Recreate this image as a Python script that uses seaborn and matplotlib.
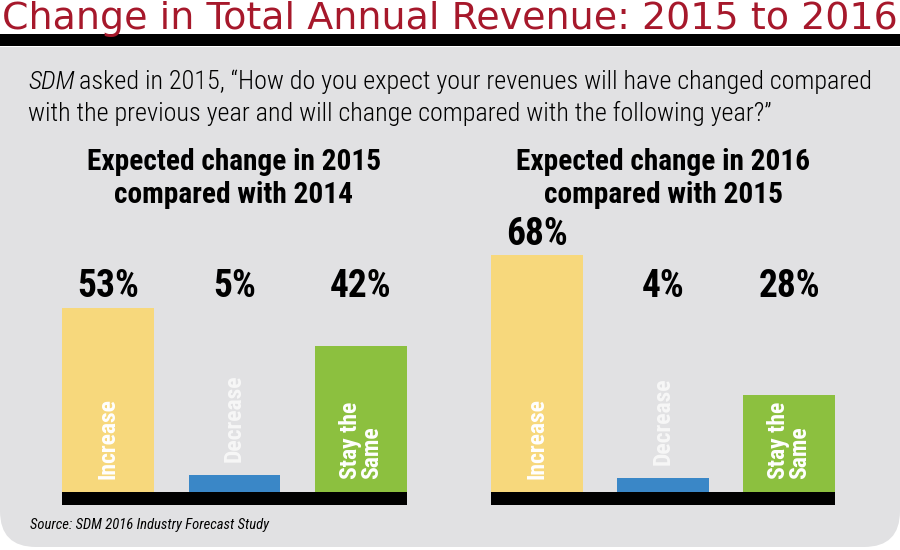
import numpy as np
import pandas as pd
import matplotlib
matplotlib.use("Agg")
import matplotlib.pyplot as plt
import seaborn as sns
from matplotlib import font_manager
from matplotlib.patches import FancyBboxPatch, Rectangle

# данные
categories = ["Increase", "Decrease", "Stay the\nSame"]
values_2015 = [53, 5, 42]
values_2016 = [68, 4, 28]
titles = ["Expected change in 2015\ncompared with 2014", "Expected change in 2016\ncompared with 2015"]
colors = ["#F7D87C", "#3A87C7", "#8CC03F"]

sns.set_theme(style="white")

# подбор узкого шрифта
installed = set(f.name for f in font_manager.fontManager.ttflist)
cond = "DejaVu Sans"
for cand in ["Roboto Condensed", "Archivo Narrow", "Liberation Sans Narrow", "Sofia Sans Condensed"]:
    if cand in installed:
        cond = cand
        break
plt.rcParams["font.family"] = [cond, "DejaVu Sans"]
plt.rcParams["text.color"] = "black"

W, H = 900, 550
fig = plt.figure(figsize=(9, 5.5), dpi=100)
fig.patch.set_facecolor("white")
renderer = fig.canvas.get_renderer()

# серая панель со скруглёнными нижними углами
panel_col = "#E1E1E3"
fig.patches.append(FancyBboxPatch((0.0, 3 / H), 1.0, 0.85, boxstyle="round,pad=0,rounding_size=0.04",
                                  transform=fig.transFigure, facecolor=panel_col, edgecolor="none", zorder=-2,
                                  mutation_aspect=W / H))
fig.patches.append(Rectangle((0, 0.4), 1, 1 - 47 / H - 0.4, transform=fig.transFigure, facecolor=panel_col,
                             edgecolor="none", zorder=-2))
# чёрная полоса под заголовком
fig.patches.append(Rectangle((0, 1 - 46 / H), 1, 12 / H, transform=fig.transFigure, facecolor="black",
                             edgecolor="none", zorder=-1))

# заголовок на всю ширину
t = fig.text(2 / W, 1 - 29 / H, "Change in Total Annual Revenue: 2015 to 2016", ha="left", va="baseline",
             fontsize=25, color="#A6182B", family=["DejaVu Sans"])
tw = t.get_window_extent(renderer).width
t.set_fontsize(25 * 895 / tw)

# подзаголовок
t1 = fig.text(28 / W, 1 - 82 / H, "SDM", ha="left", va="center", fontsize=18.8, style="italic", fontweight="light")
x_after = t1.get_window_extent(renderer).x1 + 4
fig.text(x_after / W, 1 - 82 / H,
         "asked in 2015, \u201cHow do you expect your revenues will have changed compared",
         ha="left", va="center", fontsize=18.8, fontweight="light")
fig.text(28 / W, 1 - 113 / H,
         "with the previous year and will change compared with the following year?\u201d",
         ha="left", va="center", fontsize=18.8, fontweight="light")

fig.text(30 / W, 1 - 525 / H, "Source: SDM 2016 Industry Forecast Study", ha="left", va="center",
         fontsize=10.5, style="italic")

ax_pos = [[62 / W, 45 / H, 345 / W, 0.53], [491 / W, 45 / H, 344 / W, 0.53]]
title_x = [234 / W, 663 / W]

for i, vals in enumerate([values_2015, values_2016]):
    ax = fig.add_axes(ax_pos[i])
    df = pd.DataFrame({"cat": categories, "val": vals})
    sns.barplot(data=df, x="cat", y="val", hue="cat", palette=colors, legend=False,
                width=0.727, saturation=1, linewidth=0, ax=ax)
    ax.set_xlim(-0.3635, 2.3635)
    ax.set_ylim(-3.7, 80)
    ax.axhspan(-3.7, 0, color="black", lw=0, zorder=3)
    ax.set_facecolor("none")
    ax.axis("off")

    for j, v in enumerate(vals):
        ax.text(j, max(v, 53) + 3, f"{v}%", ha="center", va="baseline", fontsize=27, fontweight="bold",
                color="black")
        y_lab = 3.7 + (v if v < 10 else 0)
        ax.text(j, y_lab, categories[j], ha="center", va="bottom", rotation=90, fontsize=17,
                fontweight="bold", color="white" if v >= 10 else "#F7F7F7", linespacing=0.85,
                multialignment="left")

    fig.text(title_x[i], 1 - 178.5 / H, titles[i], ha="center", va="center", fontsize=21.2,
             fontweight="bold", linespacing=1.22, color="black")

fig.savefig("out.png", dpi=100, facecolor="white")
